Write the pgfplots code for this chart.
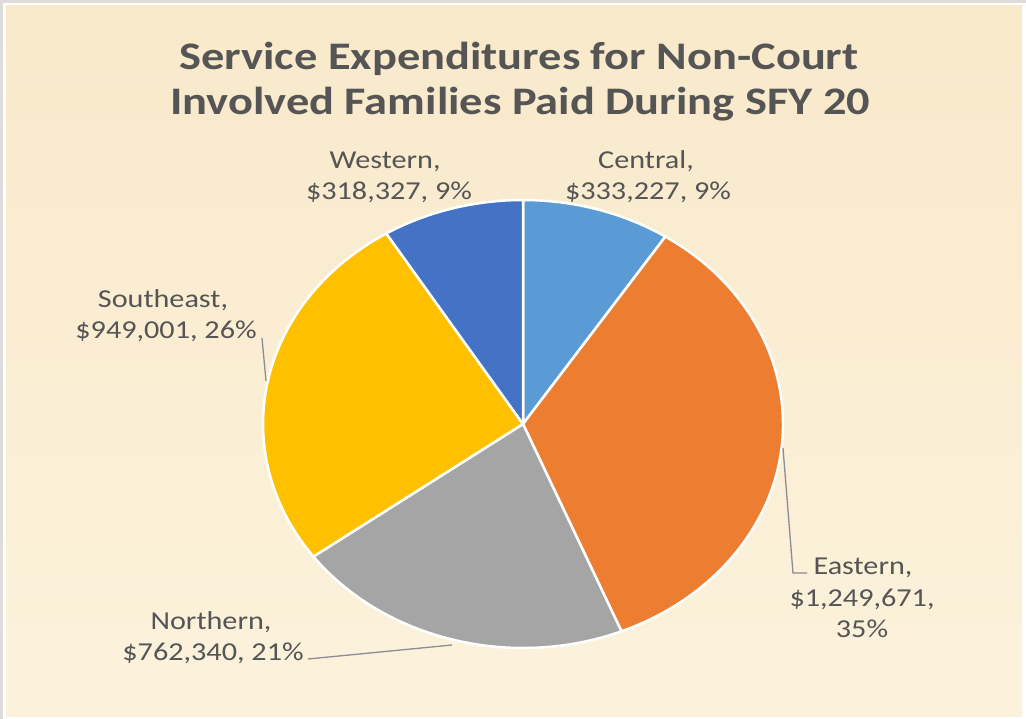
\documentclass[border=0pt]{standalone}
\usepackage{pgfplots}
\pgfplotsset{compat=1.18}
\usepackage{pgfplotstable}
\usepackage{fontspec}
\setmainfont{Carlito}
\newfontfamily\titlefont[FakeStretch=1.19]{Carlito}
\newfontfamily\labelfont[FakeStretch=1.17]{Carlito}
\definecolor{cCentral}{RGB}{91,155,213}
\definecolor{cEastern}{RGB}{237,125,49}
\definecolor{cNorthern}{RGB}{165,165,165}
\definecolor{cSoutheast}{RGB}{255,192,0}
\definecolor{cWestern}{RGB}{68,114,196}
\definecolor{txt}{RGB}{85,85,85}
\definecolor{parchtop}{RGB}{248,233,202}
\definecolor{parchbot}{RGB}{252,242,220}
\definecolor{frame}{RGB}{222,219,216}
\definecolor{leader}{RGB}{140,140,152}

\pgfplotstableread{
region value
Central 333227
Eastern 1249671
Northern 762340
Southeast 949001
Western 318327
}\pietable

\pgfplotstablegetelem{0}{value}\of\pietable \edef\vA{\pgfplotsretval}
\pgfplotstablegetelem{1}{value}\of\pietable \edef\vB{\pgfplotsretval}
\pgfplotstablegetelem{2}{value}\of\pietable \edef\vC{\pgfplotsretval}
\pgfplotstablegetelem{3}{value}\of\pietable \edef\vD{\pgfplotsretval}
\pgfplotstablegetelem{4}{value}\of\pietable \edef\vE{\pgfplotsretval}
\edef\tot{\fpeval{\vA+\vB+\vC+\vD+\vE}}
\edef\aA{\fpeval{round(90-360*\vA/\tot,4)}}
\edef\aB{\fpeval{round(\aA-360*\vB/\tot,4)}}
\edef\aC{\fpeval{round(\aB-360*\vC/\tot,4)}}
\edef\aD{\fpeval{round(\aC-360*\vD/\tot,4)}}

\newcommand\pieslice[3]{%
  \fill[#3,draw=white,line width=2.5pt,line join=round]
    (axis cs:523,424) -- ++(#1:260pt and 224pt)
    arc[start angle=#1,end angle=#2,x radius=260pt,y radius=224pt] -- cycle;}

\begin{document}
\begin{tikzpicture}
\begin{axis}[
  width=1026pt, height=719pt, scale only axis,
  xmin=0, xmax=1026, ymin=0, ymax=719, y dir=reverse,
  hide axis, clip=false,
]
\fill[frame] (axis cs:0,0) rectangle (axis cs:1026,719);
\fill[white] (axis cs:3,3) rectangle (axis cs:1026,719);
\shade[top color=parchtop,bottom color=parchbot] (axis cs:6,6) rectangle (axis cs:1022,716);
\addplot[draw=none] coordinates {(523,424)};
\pieslice{90}{\aA}{cCentral}
\pieslice{\aA}{\aB}{cEastern}
\pieslice{\aB}{\aC}{cNorthern}
\pieslice{\aC}{\aD}{cSoutheast}
\pieslice{\aD}{-270}{cWestern}
% title
\node[anchor=base,text=txt,font=\titlefont\bfseries\fontsize{39}{46}\selectfont] at (axis cs:519,70) {Service Expenditures for Non-Court};
\node[anchor=base,text=txt,font=\titlefont\bfseries\fontsize{39}{46}\selectfont] at (axis cs:520,115) {Involved Families Paid During SFY 20};
% leader lines
\draw[leader,line width=1.3pt] (axis cs:262,338) -- (axis cs:266,381);
\draw[leader,line width=1.3pt] (axis cs:783,448) -- (axis cs:793,573) -- (axis cs:807,573);
\draw[leader,line width=1.3pt] (axis cs:308,659) -- (axis cs:452,645);
% labels
\tikzset{lab/.style={anchor=base,text=txt,font=\labelfont\fontsize{25.8}{31}\selectfont}}
\node[lab] at (axis cs:385,169) {Western,};
\node[lab] at (axis cs:389,200) {\$318,327, 9\%};
\node[lab] at (axis cs:646,169) {Central,};
\node[lab] at (axis cs:648,200) {\$333,227, 9\%};
\node[lab] at (axis cs:163,308) {Southeast,};
\node[lab] at (axis cs:166,339) {\$949,001, 26\%};
\node[lab,anchor=base west] at (axis cs:810,574) {Eastern,};
\node[lab] at (axis cs:862,606) {\$1,249,671,};
\node[lab] at (axis cs:862,637) {35\%};
\node[lab] at (axis cs:211,629) {Northern,};
\node[lab] at (axis cs:213,660) {\$762,340, 21\%};
\end{axis}
\end{tikzpicture}
\end{document}
